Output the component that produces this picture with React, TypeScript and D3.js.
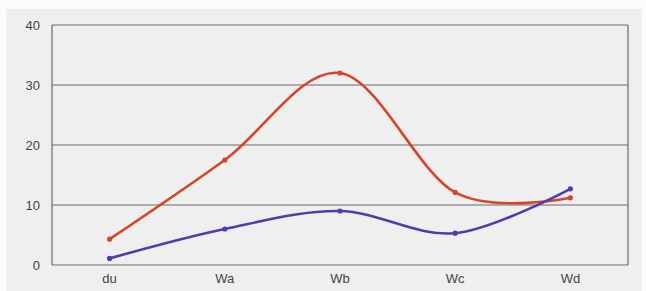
import React from 'react';
import * as d3 from 'd3';

const categories = ['du', 'Wa', 'Wb', 'Wc', 'Wd'];
const redSeries = [4.3, 17.5, 32, 12.1, 11.2];
const blueSeries = [1.1, 6.0, 9.0, 5.3, 12.7];
const yTicks = [0, 10, 20, 30, 40];

const width = 646;
const height = 291;
const margin = { top: 25, right: 18, bottom: 26, left: 52 };

const App: React.FC = () => {
  const x = d3.scalePoint<string>()
    .domain(categories)
    .range([margin.left, width - margin.right])
    .padding(0.5);

  const y = d3.scaleLinear()
    .domain([0, 40])
    .range([height - margin.bottom, margin.top]);

  const line = d3.line<number>()
    .x((_, i) => x(categories[i]) as number)
    .y(d => y(d))
    .curve(d3.curveCardinal.tension(0));

  const series = [
    { values: redSeries, color: '#d5452b' },
    { values: blueSeries, color: '#4b3fae' },
  ];

  return (
    <svg width={width} height={height} viewBox={`0 0 ${width} ${height}`}
      style={{ position: 'absolute', left: 0, top: 0, fontFamily: 'Liberation Sans, Arial, sans-serif' }}>
      <rect x={0} y={0} width={width} height={height} fill="#fbfbfb" />
      <rect x={6} y={9} width={width - 10} height={height - 9} fill="#efefef" />
      {yTicks.map(t => (
        <g key={t}>
          <line x1={margin.left} x2={width - margin.right} y1={y(t)} y2={y(t)} stroke="#6a6a6a" strokeWidth={1.2} />
          <text x={margin.left - 12} y={y(t)} dy="0.35em" textAnchor="end" fontSize={13} fill="#444">{t}</text>
        </g>
      ))}
      <line x1={margin.left} x2={margin.left} y1={y(40)} y2={y(0)} stroke="#6a6a6a" strokeWidth={1.2} />
      <line x1={width - margin.right} x2={width - margin.right} y1={y(40)} y2={y(0)} stroke="#6a6a6a" strokeWidth={1.2} />
      {categories.map(c => (
        <text key={c} x={x(c)} y={height - 8} textAnchor="middle" fontSize={13} fill="#444">{c}</text>
      ))}
      {series.map((s, si) => (
        <g key={si}>
          <path d={line(s.values) ?? ''} fill="none" stroke={s.color} strokeWidth={2.6} />
          {s.values.map((v, i) => (
            <circle key={i} cx={x(categories[i])} cy={y(v)} r={2.6} fill={s.color} />
          ))}
        </g>
      ))}
    </svg>
  );
};

export default App;
